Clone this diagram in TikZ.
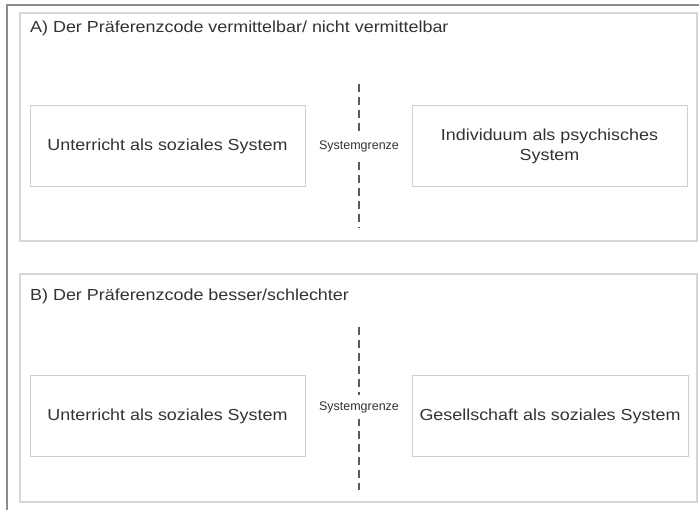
\documentclass[tikz,border=0pt]{standalone}
\usepackage{fontspec}
\setmainfont{Liberation Sans}
\newfontfamily\breitfont[FakeStretch=1.12]{Liberation Sans}
\usetikzlibrary{positioning}

\definecolor{textgray}{HTML}{333333}
\definecolor{rahmen}{HTML}{8C8C8C}
\definecolor{feldrand}{HTML}{D6D6D6}
\definecolor{boxrand}{HTML}{CFCFCF}
\definecolor{grenzfarbe}{HTML}{5A5A5A}

\tikzset{
	panel/.style={draw=feldrand, line width=1.3pt, fill=white, rectangle, inner sep=0pt},
	systembox/.style={draw=boxrand, line width=1pt, fill=white, rectangle, align=center,
		text=textgray, font=\breitfont\fontsize{16}{20}\selectfont, minimum width=275pt, minimum height=81pt, inner sep=0pt},
	titel/.style={anchor=west, text=textgray, font=\breitfont\fontsize{16}{19}\selectfont, inner sep=0pt},
	grenze/.style={draw=grenzfarbe, line width=1.4pt, dash pattern=on 8pt off 5pt},
	grenzlabel/.style={fill=white, text=textgray, font=\fontsize{12.5}{14}\selectfont, inner xsep=1pt, inner ysep=6pt}
}

\begin{document}
\begin{tikzpicture}[x=1pt,y=-1pt]
		\useasboundingbox (0,0) rectangle (699,510);
		% aeusserer Rahmen
		\draw[rahmen, line width=2.5pt] (7,510) -- (7,5) -- (699,5);
		% Feld A
		\node[panel, minimum width=677pt, minimum height=228pt] (feldA) at (358.5,127) {};
		\node[titel] (titelA) at (30,28) {A) Der Präferenzcode vermittelbar/ nicht vermittelbar};
		\node[systembox] (unterrichtA) at (167.5,146.5) {Unterricht als soziales System};
		\node[systembox] (individuum) at (549.5,146.5) {Individuum als psychisches\\System};
		\coordinate (grenzeAoben) at (359,84);
		\coordinate (grenzeAunten) at (359,228);
		\draw[grenze] (grenzeAoben) -- (grenzeAunten);
		\node[grenzlabel] (systemgrenzeA) at (359,146) {Systemgrenze};
		% Feld B
		\node[panel, minimum width=677pt, minimum height=228pt] (feldB) at (358.5,388) {};
		\node[titel] (titelB) at (30,296) {B) Der Präferenzcode besser/schlechter};
		\node[systembox] (unterrichtB) at (167.5,416.5) {Unterricht als soziales System};
		\node[systembox, minimum width=276pt] (gesellschaft) at (550,416.5) {Gesellschaft als soziales System};
		\coordinate (grenzeBoben) at (359,327);
		\coordinate (grenzeBunten) at (359,490);
		\draw[grenze] (grenzeBoben) -- (grenzeBunten);
		\node[grenzlabel] (systemgrenzeB) at (359,407) {Systemgrenze};
		%\draw[help lines] (0,0) grid[step=50] (699,510);
\end{tikzpicture}
\end{document}
